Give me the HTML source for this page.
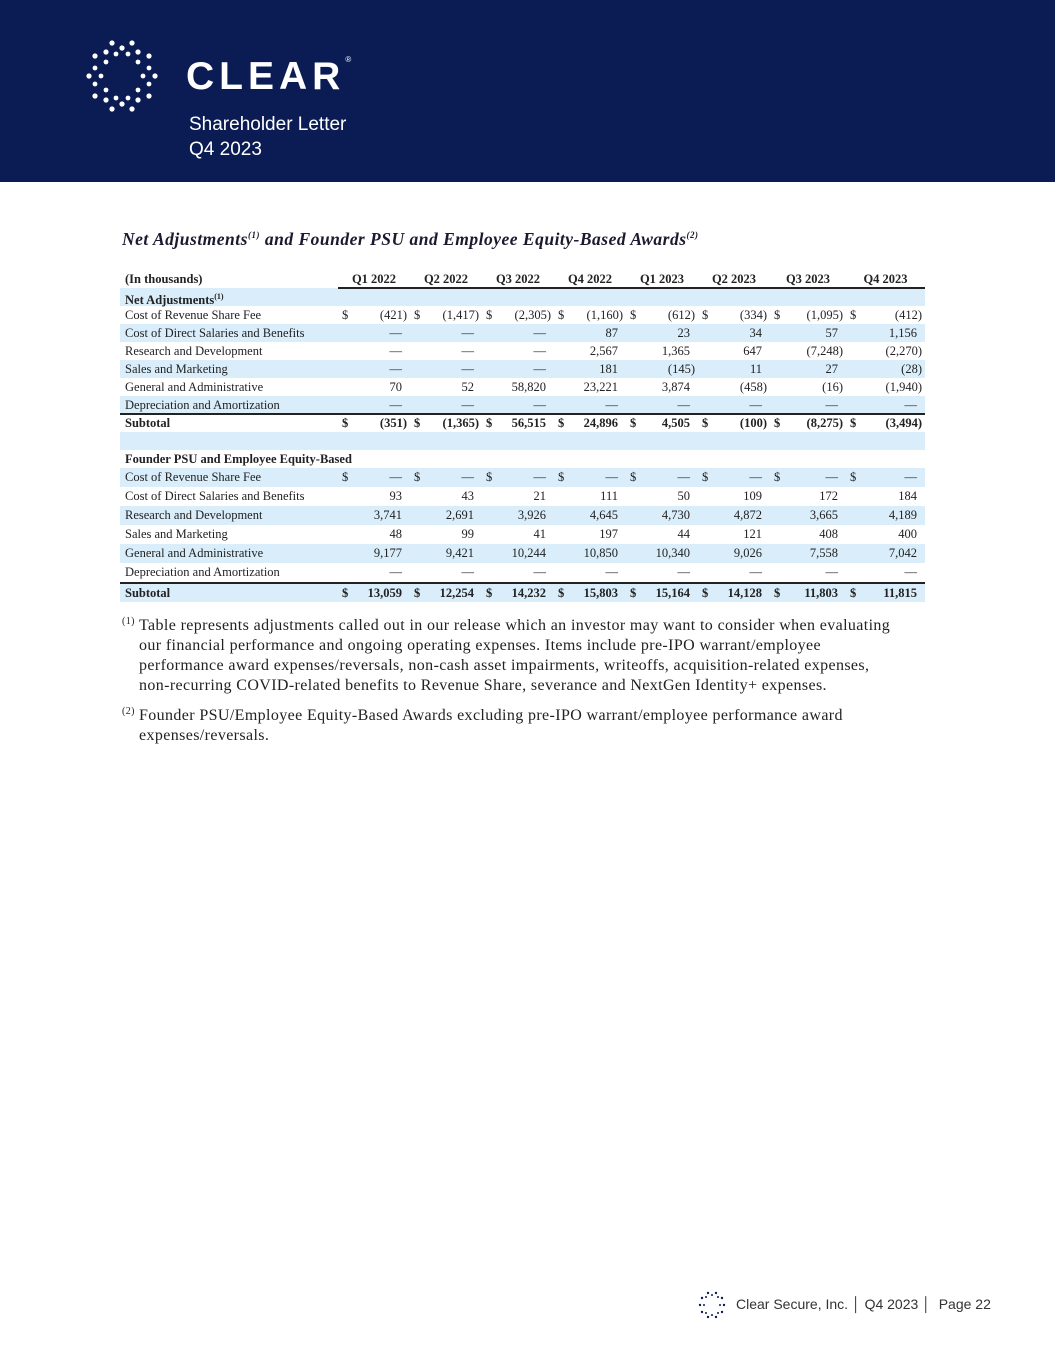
<!DOCTYPE html>
<html><head><meta charset="utf-8"><style>
*{margin:0;padding:0;box-sizing:border-box}
body{width:1055px;height:1365px;background:#fff;position:relative;overflow:hidden;font-family:"Liberation Serif",serif;color:#222}
.hdr{position:absolute;left:0;top:0;width:1055px;height:182px;background:#0b1c54}
.clear{position:absolute;left:186px;top:55px;color:#fff;font-family:"Liberation Sans",sans-serif;font-weight:bold;font-size:39px;letter-spacing:5px}
.sub{position:absolute;left:189px;color:#fff;font-family:"Liberation Sans",sans-serif;font-size:19px}
.title{position:absolute;left:122px;top:229px;font-size:17.5px;font-weight:bold;font-style:italic;color:#1a1a2e;letter-spacing:0.5px}
.title sup{font-size:9px}
.r{position:absolute;left:120px;width:805px;font-size:12.5px}
.r.s{background:#d9eefa}
.r span{position:absolute;white-space:nowrap}
.lab{left:5px}
.b{font-weight:bold}
.fn{position:absolute;left:139px;width:800px;font-size:16px;line-height:20px;color:#222;letter-spacing:0.38px;white-space:nowrap}
.fn sup{position:absolute;left:-17px;top:-4px;font-size:10px}
.foot{position:absolute;left:736px;top:1296px;font-family:"Liberation Sans",sans-serif;font-size:14px;color:#333}
</style></head><body>
<div class="hdr">
<svg width="182" height="182" style="position:absolute;left:0;top:0">
<g fill="#fff" transform="translate(122,76)">
<circle cx="-10" cy="-33" r="2.6"/><circle cx="10" cy="-33" r="2.6"/><circle cx="0" cy="-28" r="2.6"/>
<circle cx="-10" cy="33" r="2.6"/><circle cx="10" cy="33" r="2.6"/><circle cx="0" cy="28" r="2.6"/>
<circle cx="-33" cy="0" r="2.6"/><circle cx="33" cy="0" r="2.6"/>
<circle cx="-27" cy="-20" r="2.6"/><circle cx="27" cy="-20" r="2.6"/><circle cx="-27" cy="20" r="2.6"/><circle cx="27" cy="20" r="2.6"/>
<circle cx="-16" cy="-24" r="2.6"/><circle cx="16" cy="-24" r="2.6"/><circle cx="-16" cy="24" r="2.6"/><circle cx="16" cy="24" r="2.6"/>
<circle cx="-6" cy="-22" r="2.4"/><circle cx="6" cy="-22" r="2.4"/><circle cx="-6" cy="22" r="2.4"/><circle cx="6" cy="22" r="2.4"/>
<circle cx="-16" cy="-14" r="2.4"/><circle cx="16" cy="-14" r="2.4"/><circle cx="-16" cy="14" r="2.4"/><circle cx="16" cy="14" r="2.4"/>
<circle cx="-27" cy="-8" r="2.4"/><circle cx="27" cy="-8" r="2.4"/><circle cx="-27" cy="8" r="2.4"/><circle cx="27" cy="8" r="2.4"/>
<circle cx="-21" cy="0" r="2.4"/><circle cx="21" cy="0" r="2.4"/>
</g></svg>
<div class="clear">CLEAR<span style="font-size:8px;vertical-align:top;letter-spacing:0;font-weight:normal">®</span></div>
<div class="sub" style="top:114px">Shareholder Letter</div>
<div class="sub" style="top:139px">Q4 2023</div>
</div>
<div class="title">Net Adjustments<sup>(1)</sup> and Founder PSU and Employee Equity-Based Awards<sup>(2)</sup></div>
<div id="tbl"></div>
<div style="position:absolute;left:338px;top:287px;width:587px;height:1.5px;background:#222"></div>
<div style="position:absolute;left:120px;top:413px;width:805px;height:2px;background:#222"></div>
<div style="position:absolute;left:120px;top:582px;width:805px;height:2px;background:#222"></div>
<div class="fn" style="top:616px"><sup>(1)</sup>Table represents adjustments called out in our release which an investor may want to consider when evaluating<br>our financial performance and ongoing operating expenses. Items include pre-IPO warrant/employee<br>performance award expenses/reversals, non-cash asset impairments, writeoffs, acquisition-related expenses,<br>non-recurring COVID-related benefits to Revenue Share, severance and NextGen Identity+ expenses.</div>
<div class="fn" style="top:706px"><sup>(2)</sup>Founder PSU/Employee Equity-Based Awards excluding pre-IPO warrant/employee performance award<br>expenses/reversals.</div>
<svg width="30" height="30" style="position:absolute;left:698px;top:1290px"><g fill="#0b1c54" transform="translate(14,15)">
<circle cx="-4" cy="-12" r="1.2"/><circle cx="4" cy="-12" r="1.2"/><circle cx="-4" cy="12" r="1.2"/><circle cx="4" cy="12" r="1.2"/><circle cx="-12" cy="0" r="1.2"/><circle cx="12" cy="0" r="1.2"/><circle cx="-10" cy="-7" r="1.2"/><circle cx="10" cy="-7" r="1.2"/><circle cx="-10" cy="7" r="1.2"/><circle cx="10" cy="7" r="1.2"/><circle cx="-6" cy="-8" r="1"/><circle cx="6" cy="-8" r="1"/><circle cx="-6" cy="8" r="1"/><circle cx="6" cy="8" r="1"/><circle cx="-8" cy="0" r="1"/><circle cx="8" cy="0" r="1"/><circle cx="0" cy="-10" r="1"/><circle cx="0" cy="10" r="1"/></g></svg>
<div class="foot">Clear Secure, Inc. │ Q4 2023 │&nbsp; Page 22</div>
<script>
var starts=[338,410,482,554,626,698,770,846],ends=[410,482,554,626,698,770,846,925];
var rows=[
[271,17,0,'(In thousands)',1,['Q1 2022','Q2 2022','Q3 2022','Q4 2022','Q1 2023','Q2 2023','Q3 2023','Q4 2023'],'h'],
[288,18,1,'Net Adjustments<sup style="font-size:8px">(1)</sup>',1,null],
[306,18,0,'Cost of Revenue Share Fee',0,['(421)','(1,417)','(2,305)','(1,160)','(612)','(334)','(1,095)','(412)'],'$'],
[324,18,1,'Cost of Direct Salaries and Benefits',0,['—','—','—','87','23','34','57','1,156']],
[342,18,0,'Research and Development',0,['—','—','—','2,567','1,365','647','(7,248)','(2,270)']],
[360,18,1,'Sales and Marketing',0,['—','—','—','181','(145)','11','27','(28)']],
[378,18,0,'General and Administrative',0,['70','52','58,820','23,221','3,874','(458)','(16)','(1,940)']],
[396,18,1,'Depreciation and Amortization',0,['—','—','—','—','—','—','—','—']],
[415,17,0,'Subtotal',1,['(351)','(1,365)','56,515','24,896','4,505','(100)','(8,275)','(3,494)'],'$'],
[432,18,1,'',0,null],
[450,18,0,'Founder PSU and Employee Equity-Based',1,null],
[468,19,1,'Cost of Revenue Share Fee',0,['—','—','—','—','—','—','—','—'],'$'],
[487,19,0,'Cost of Direct Salaries and Benefits',0,['93','43','21','111','50','109','172','184']],
[506,19,1,'Research and Development',0,['3,741','2,691','3,926','4,645','4,730','4,872','3,665','4,189']],
[525,19,0,'Sales and Marketing',0,['48','99','41','197','44','121','408','400']],
[544,19,1,'General and Administrative',0,['9,177','9,421','10,244','10,850','10,340','9,026','7,558','7,042']],
[563,19,0,'Depreciation and Amortization',0,['—','—','—','—','—','—','—','—']],
[584,18,1,'Subtotal',1,['13,059','12,254','14,232','15,803','15,164','14,128','11,803','11,815'],'$']];
var h='';
rows.forEach(function(r){
 var lh=r[1];
 h+='<div class="r'+(r[2]?' s':'')+(r[4]?' b':'')+'" style="top:'+r[0]+'px;height:'+lh+'px;line-height:'+lh+'px">';
 h+='<span class="lab">'+r[3]+'</span>';
 if(r[5]){for(var i=0;i<8;i++){var s=starts[i]-120,e=ends[i]-120,v=r[5][i];
  if(r[6]=='h'){h+='<span style="left:'+s+'px;width:'+(e-s)+'px;text-align:center">'+v+'</span>';continue;}
  if(r[6]=='$')h+='<span style="left:'+(s+4)+'px">$</span>';
  var par=v.charAt(0)=='(';
  h+='<span style="right:'+(805-e+(par?3:8))+'px">'+v+'</span>';}}
 h+='</div>';});
document.getElementById('tbl').innerHTML=h;
</script>
</body></html>
